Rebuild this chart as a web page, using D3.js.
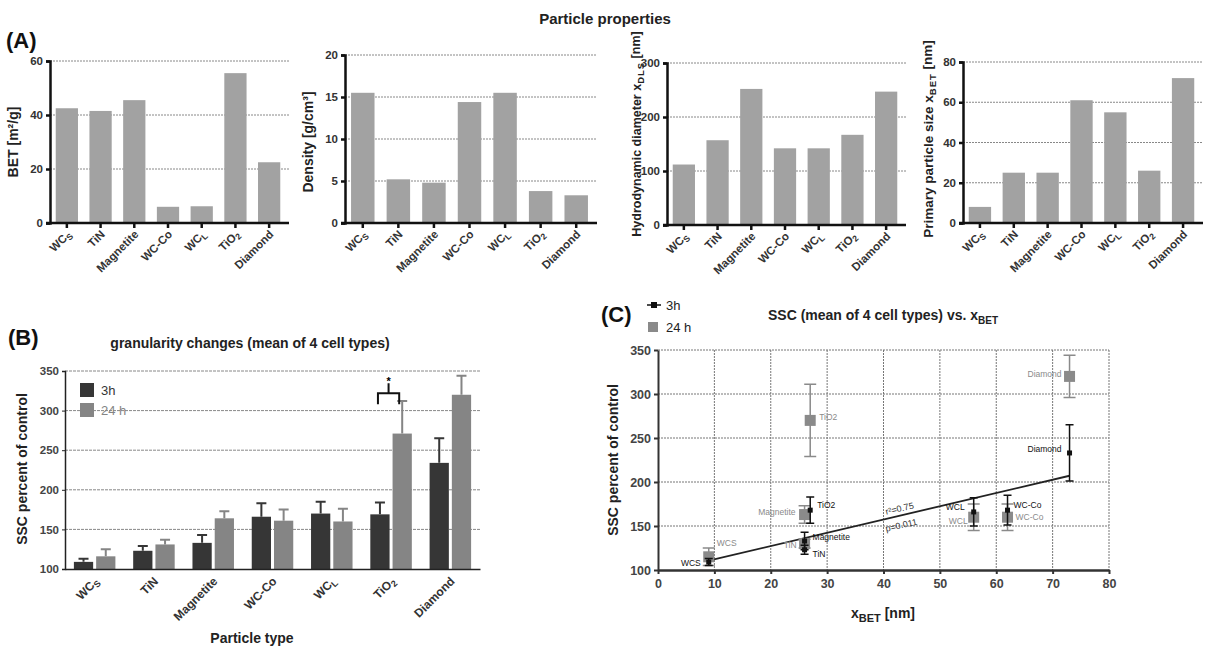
<!DOCTYPE html>
<html>
<head>
<meta charset="utf-8">
<script src="https://cdn.jsdelivr.net/npm/d3@7"></script>
<style>
  body { margin: 0; background: #fff; }
  svg { font-family: "Liberation Sans", Arial, sans-serif; }
  .bold { font-weight: bold; }
</style>
</head>
<body>
<svg id="fig" width="1211" height="650"></svg>
<script>
// particle names, "_" marks a subscript
var cats = ["WC_S", "TiN", "Magnetite", "WC-Co", "WC_L", "TiO_2", "Diamond"];

// panel A values
var bet = [42.5, 41.5, 45.5, 6, 6.2, 55.5, 22.5];
var density = [15.5, 5.2, 4.8, 14.4, 15.5, 3.8, 3.3];
var xDLS = [112, 157, 252, 142, 142, 167, 247];
var xBETbar = [8, 25, 25, 61, 55, 26, 72];

// panel B: mean and upper error
var ssc3h = [109, 123, 133, 166, 170, 169, 234];
var err3h = [4, 6, 10, 17, 15, 15, 31];
var ssc24h = [116, 131, 164, 161, 160, 271, 320];
var err24h = [9, 6, 9, 14, 16, 41, 24];

// panel C: scatter vs x_BET
var cNames = ["WCS", "TiN", "Magnetite", "TiO2", "WCL", "WC-Co", "Diamond"];
var cX = [9, 26, 26, 27, 56, 62, 73];
var cY3h = [109, 123, 133, 168, 166, 168, 233];
var cE3h = [4, 5, 10, 15, 16, 17, 32];
var cY24h = [115, 130, 163, 270, 160, 160, 320];
var cE24h = [10, 5, 10, 41, 15, 15, 24];
var statText = ["r\u00b2=0.75", "p=0.011"];

var svg = d3.select("#fig");
svg.append("rect").attr("width", 1211).attr("height", 650).attr("fill", "#fff");

// write a label with "_" subscript
function subText(sel, s) {
  var parts = s.split("_");
  sel.append("tspan").text(parts[0]);
  if (parts[1]) sel.append("tspan").attr("font-size", "0.75em").attr("dy", "0.3em").text(parts[1]);
}

svg.append("text").attr("class", "bold").attr("x", 605).attr("y", 24)
  .attr("text-anchor", "middle").attr("font-size", 15).attr("fill", "#222").text("Particle properties");
svg.append("text").attr("class", "bold").attr("x", 6).attr("y", 48)
  .attr("font-size", 22).attr("fill", "#111").text("(A)");

// one small bar chart of panel A
function barPanel(o) {
  var g = svg.append("g");
  var x = d3.scaleBand().domain(cats).range([o.x0, o.x1]).paddingInner(0.34).paddingOuter(0.17);
  var y = d3.scaleLinear().domain([0, o.max]).range([o.y0, o.y1]);

  g.append("g").selectAll("line").data(o.ticks.slice(1)).join("line")
    .attr("x1", o.x0).attr("x2", o.x1 + 3)
    .attr("y1", function(d){ return y(d); }).attr("y2", function(d){ return y(d); })
    .attr("stroke", "#888").attr("stroke-width", 1).attr("stroke-dasharray", "2,1");

  g.selectAll("rect.bar").data(o.vals).join("rect").attr("class", "bar")
    .attr("x", function(d, i){ return x(cats[i]); })
    .attr("width", x.bandwidth())
    .attr("y", function(d){ return y(d); })
    .attr("height", function(d){ return o.y0 - y(d); })
    .attr("fill", "#a2a2a2");

  var ya = g.append("g").attr("transform", "translate(" + o.x0 + ",0)")
    .call(d3.axisLeft(y).tickValues(o.ticks).tickSize(4).tickPadding(3));
  ya.select(".domain").attr("stroke", "#111").attr("stroke-width", 2.5);
  ya.selectAll(".tick line").attr("stroke", "#111").attr("stroke-width", 2.5);
  ya.selectAll(".tick text").attr("class", "bold").attr("font-size", 11.5).attr("fill", "#333")
    .attr("font-family", "Liberation Sans, Arial, sans-serif");

  var xa = g.append("g").attr("transform", "translate(0," + o.y0 + ")")
    .call(d3.axisBottom(x).tickSize(5).tickSizeOuter(0).tickFormat(""));
  xa.select(".domain").attr("stroke", "#111").attr("stroke-width", 2.5)
    .attr("d", "M" + (o.x0 - 4) + ",0H" + (o.x1 + 3));
  xa.selectAll(".tick line").attr("stroke", "#111").attr("stroke-width", 2.5);
  xa.selectAll(".tick").append("text")
    .attr("class", "bold").attr("font-size", 11.5).attr("fill", "#333")
    .attr("text-anchor", "end")
    .attr("font-family", "Liberation Sans, Arial, sans-serif")
    .attr("transform", "translate(5,12) rotate(-45)")
    .each(function(d){ subText(d3.select(this), d); });

  var t = g.append("text").attr("class", "bold").attr("font-size", o.fs).attr("fill", "#222")
    .attr("text-anchor", "middle")
    .attr("transform", "translate(" + o.lx + "," + o.ly + ") rotate(-90)");
  t.append("tspan").text(o.label[0]);
  if (o.label[1]) {
    t.append("tspan").attr("font-size", 9.5).attr("dy", "0.35em").attr("letter-spacing", 1).text(o.label[1]);
    t.append("tspan").attr("dy", "-0.35em").text(o.label[2]);
  }
}

barPanel({ vals: bet, max: 60, ticks: [0, 20, 40, 60], x0: 50, x1: 286, y0: 223, y1: 61,
  lx: 18, ly: 142, fs: 14, label: ["BET [m\u00b2/g]"] });
barPanel({ vals: density, max: 20, ticks: [0, 5, 10, 15, 20], x0: 345, x1: 594, y0: 223, y1: 55,
  lx: 313, ly: 142, fs: 14, label: ["Density [g/cm\u00b3]"] });
barPanel({ vals: xDLS, max: 300, ticks: [0, 100, 200, 300], x0: 667, x1: 903, y0: 225, y1: 63,
  lx: 641, ly: 134, fs: 12.5, label: ["Hydrodynamic diameter x", "DLS", " [nm]"] });
barPanel({ vals: xBETbar, max: 80, ticks: [0, 20, 40, 60, 80], x0: 963, x1: 1200, y0: 223, y1: 62,
  lx: 933, ly: 139, fs: 13.5, label: ["Primary particle size x", "BET", " [nm]"] });

// ---------- panel B ----------
(function() {
  var g = svg.append("g");
  var x0 = 65, x1 = 480, yb = 569, yt = 371;
  var x = d3.scaleBand().domain(cats).range([x0, x1]).paddingInner(0.3).paddingOuter(0.15);
  var y = d3.scaleLinear().domain([100, 350]).range([yb, yt]);
  var bw = (x.bandwidth() - 3) / 2;

  g.append("text").attr("class", "bold").attr("x", 8).attr("y", 345).attr("font-size", 22).attr("fill", "#111").text("(B)");
  g.append("text").attr("class", "bold").attr("x", 250).attr("y", 348).attr("text-anchor", "middle")
    .attr("font-size", 14).attr("fill", "#222").text("granularity changes (mean of 4 cell types)");

  g.selectAll("line.grid").data([150, 200, 250, 300, 350]).join("line").attr("class", "grid")
    .attr("x1", x0).attr("x2", x1)
    .attr("y1", function(d){ return y(d); }).attr("y2", function(d){ return y(d); })
    .attr("stroke", "#888").attr("stroke-dasharray", "3,1");

  var series = [
    { v: ssc3h, e: err3h, c: "#363636", off: 0 },
    { v: ssc24h, e: err24h, c: "#858585", off: bw + 3 }
  ];
  series.forEach(function(s) {
    var sg = g.append("g");
    sg.selectAll("rect").data(s.v).join("rect")
      .attr("x", function(d, i){ return x(cats[i]) + s.off; })
      .attr("width", bw)
      .attr("y", function(d){ return y(d); })
      .attr("height", function(d){ return yb - y(d); })
      .attr("fill", s.c);
    sg.selectAll("path").data(s.v).join("path")
      .attr("d", function(d, i){
        var cx = x(cats[i]) + s.off + bw / 2, top = y(d + s.e[i]);
        return "M" + cx + "," + y(d) + "V" + top + "M" + (cx - 5) + "," + top + "H" + (cx + 5);
      })
      .attr("stroke", s.c).attr("stroke-width", 2).attr("fill", "none");
  });

  // significance bracket on TiO2
  var bx = x("TiO_2"), bl = bx + bw / 2 - 2, br = bx + bw + 3 + bw / 2 - 3, bm = (bl + br) / 2;
  var by = y(322);
  g.append("path").attr("d", "M" + bl + "," + (by + 11) + "V" + by + "H" + br + "V" + (by + 11) + "M" + bm + "," + by + "V" + (by - 10))
    .attr("stroke", "#111").attr("stroke-width", 2).attr("fill", "none");
  g.append("text").attr("x", bm).attr("y", by - 8).attr("text-anchor", "middle").attr("font-size", 11).attr("class", "bold").text("*");

  var ya = g.append("g").attr("transform", "translate(" + x0 + ",0)")
    .call(d3.axisLeft(y).tickValues([100, 150, 200, 250, 300, 350]).tickSize(3).tickPadding(3));
  ya.select(".domain").attr("stroke", "#222").attr("stroke-width", 1.5);
  ya.selectAll(".tick line").attr("stroke", "#222");
  ya.selectAll(".tick text").attr("class", "bold").attr("font-size", 11.5).attr("fill", "#444")
    .attr("font-family", "Liberation Sans, Arial, sans-serif");

  var xa = g.append("g").attr("transform", "translate(0," + yb + ")")
    .call(d3.axisBottom(x).tickSize(0).tickFormat(""));
  xa.select(".domain").attr("stroke", "#222").attr("stroke-width", 1.5);
  xa.selectAll(".tick").append("text")
    .attr("class", "bold").attr("font-size", 12).attr("fill", "#333").attr("text-anchor", "end")
    .attr("font-family", "Liberation Sans, Arial, sans-serif")
    .attr("transform", "translate(5,13) rotate(-45)")
    .each(function(d){ subText(d3.select(this), d); });

  g.append("text").attr("class", "bold").attr("font-size", 14).attr("fill", "#222").attr("text-anchor", "middle")
    .attr("transform", "translate(27,469) rotate(-90)").text("SSC percent of control");
  g.append("text").attr("class", "bold").attr("font-size", 14).attr("fill", "#222").attr("text-anchor", "middle")
    .attr("x", 252).attr("y", 643).text("Particle type");

  // legend
  var leg = [{ t: "3h", c: "#363636" }, { t: "24 h", c: "#858585" }];
  leg.forEach(function(l, i) {
    g.append("rect").attr("x", 80).attr("y", 383 + i * 20).attr("width", 14).attr("height", 14).attr("fill", l.c);
    g.append("text").attr("x", 101).attr("y", 395 + i * 20).attr("font-size", 13).attr("fill", l.c).text(l.t);
  });
})();

// ---------- panel C ----------
(function() {
  var g = svg.append("g");
  var x = d3.scaleLinear().domain([0, 80]).range([658, 1109]);
  var y = d3.scaleLinear().domain([100, 350]).range([570, 350]);

  g.append("text").attr("class", "bold").attr("x", 601).attr("y", 322).attr("font-size", 22).attr("fill", "#111").text("(C)");
  var tt = g.append("text").attr("class", "bold").attr("x", 883).attr("y", 320).attr("text-anchor", "middle")
    .attr("font-size", 14).attr("fill", "#222");
  tt.append("tspan").text("SSC (mean of 4 cell types) vs. x");
  tt.append("tspan").attr("font-size", 10).attr("dy", 4).text("BET");

  // grid
  g.selectAll("line.vg").data(d3.range(10, 81, 10)).join("line").attr("class", "vg")
    .attr("x1", function(d){ return x(d); }).attr("x2", function(d){ return x(d); })
    .attr("y1", y(350)).attr("y2", y(100))
    .attr("stroke", "#777").attr("stroke-dasharray", "2,1");
  g.selectAll("line.hg").data(d3.range(150, 351, 50)).join("line").attr("class", "hg")
    .attr("x1", x(0)).attr("x2", x(80))
    .attr("y1", function(d){ return y(d); }).attr("y2", function(d){ return y(d); })
    .attr("stroke", "#777").attr("stroke-dasharray", "2,1");

  var xa = g.append("g").attr("transform", "translate(0," + y(100) + ")")
    .call(d3.axisBottom(x).tickValues(d3.range(0, 81, 10)).tickSize(4).tickSizeOuter(0).tickPadding(5));
  xa.select(".domain").attr("stroke", "#333").attr("stroke-width", 2.5);
  xa.selectAll(".tick line").attr("stroke", "#333").attr("stroke-width", 2);
  xa.selectAll(".tick text").attr("class", "bold").attr("font-size", 12.5).attr("fill", "#444")
    .attr("font-family", "Liberation Sans, Arial, sans-serif");
  var ya = g.append("g").attr("transform", "translate(" + x(0) + ",0)")
    .call(d3.axisLeft(y).tickValues(d3.range(100, 351, 50)).tickSize(4).tickSizeOuter(0).tickPadding(3));
  ya.select(".domain").attr("stroke", "#333").attr("stroke-width", 2);
  ya.selectAll(".tick line").attr("stroke", "#333").attr("stroke-width", 2);
  ya.selectAll(".tick text").attr("class", "bold").attr("font-size", 12.5).attr("fill", "#444")
    .attr("font-family", "Liberation Sans, Arial, sans-serif");

  var xt = g.append("text").attr("class", "bold").attr("x", 883).attr("y", 618).attr("text-anchor", "middle")
    .attr("font-size", 14).attr("fill", "#222");
  xt.append("tspan").text("x");
  xt.append("tspan").attr("font-size", 11).attr("dy", 4).text("BET");
  xt.append("tspan").attr("dy", -4).text(" [nm]");
  g.append("text").attr("class", "bold").attr("font-size", 14).attr("fill", "#222").attr("text-anchor", "middle")
    .attr("transform", "translate(618,460) rotate(-90)").text("SSC percent of control");

  // regression of 3h means on x_BET
  var mx = d3.mean(cX), my = d3.mean(cY3h);
  var sxy = d3.sum(cX, function(d, i){ return (d - mx) * (cY3h[i] - my); });
  var sxx = d3.sum(cX, function(d){ return (d - mx) * (d - mx); });
  var slope = sxy / sxx, icpt = my - slope * mx;
  var xa0 = d3.min(cX), xa1 = d3.max(cX);
  g.append("line").attr("x1", x(xa0)).attr("y1", y(icpt + slope * xa0))
    .attr("x2", x(xa1)).attr("y2", y(icpt + slope * xa1))
    .attr("stroke", "#222").attr("stroke-width", 1.8);
  var ang = Math.atan2(y(icpt + slope * 50) - y(icpt + slope * 40), x(50) - x(40)) * 180 / Math.PI;
  statText.forEach(function(s, i) {
    g.append("text").attr("font-size", 9).attr("fill", "#333")
      .attr("transform", "translate(" + x(40.5) + "," + (y(icpt + slope * 40.5) - 4 + i * 17) + ") rotate(" + ang + ")")
      .text(s);
  });

  var series = [
    { y: cY24h, e: cE24h, c: "#8a8a8a", sz: 11, cap: 6,
      lab: [[8, -13, "start"], [-8, 2, "end"], [-9, -2, "end"], [9, -3, "start"], [-6, 5, "end"], [8, 1, "start"], [-8, -2, "end"]] },
    { y: cY3h, e: cE3h, c: "#111", sz: 5, cap: 4,
      lab: [[-8, 2, "end"], [8, 5, "start"], [8, -3, "start"], [7, -4, "start"], [-9, -4, "end"], [6, -4, "start"], [-8, -3, "end"]] }
  ];
  series.forEach(function(s) {
    var sg = g.append("g");
    sg.selectAll("path").data(s.y).join("path")
      .attr("d", function(d, i){
        var cx = x(cX[i]), lo = y(d - s.e[i]), hi = y(d + s.e[i]);
        return "M" + cx + "," + lo + "V" + hi + "M" + (cx - s.cap) + "," + hi + "H" + (cx + s.cap) +
          "M" + (cx - s.cap) + "," + lo + "H" + (cx + s.cap);
      })
      .attr("stroke", s.c).attr("stroke-width", 1.5).attr("fill", "none");
    sg.selectAll("rect").data(s.y).join("rect")
      .attr("x", function(d, i){ return x(cX[i]) - s.sz / 2; })
      .attr("y", function(d){ return y(d) - s.sz / 2; })
      .attr("width", s.sz).attr("height", s.sz).attr("fill", s.c);
    sg.selectAll("text").data(s.y).join("text")
      .attr("x", function(d, i){ return x(cX[i]) + s.lab[i][0]; })
      .attr("y", function(d, i){ return y(d) + s.lab[i][1]; })
      .attr("text-anchor", function(d, i){ return s.lab[i][2]; })
      .attr("dominant-baseline", "middle")
      .attr("font-size", 8.5).attr("fill", s.c)
      .attr("font-family", "Liberation Sans Narrow, Liberation Sans, Arial, sans-serif")
      .text(function(d, i){ return cNames[i]; });
  });

  // legend
  g.append("line").attr("x1", 647).attr("x2", 661).attr("y1", 305).attr("y2", 305).attr("stroke", "#111").attr("stroke-width", 1.5);
  g.append("rect").attr("x", 651).attr("y", 302).attr("width", 6).attr("height", 6).attr("fill", "#111");
  g.append("text").attr("x", 666).attr("y", 310).attr("font-size", 13).attr("fill", "#222").text("3h");
  g.append("rect").attr("x", 648).attr("y", 322).attr("width", 10).attr("height", 10).attr("fill", "#8a8a8a");
  g.append("text").attr("x", 666).attr("y", 332).attr("font-size", 13).attr("fill", "#222").text("24 h");
})();
</script>
</body>
</html>
